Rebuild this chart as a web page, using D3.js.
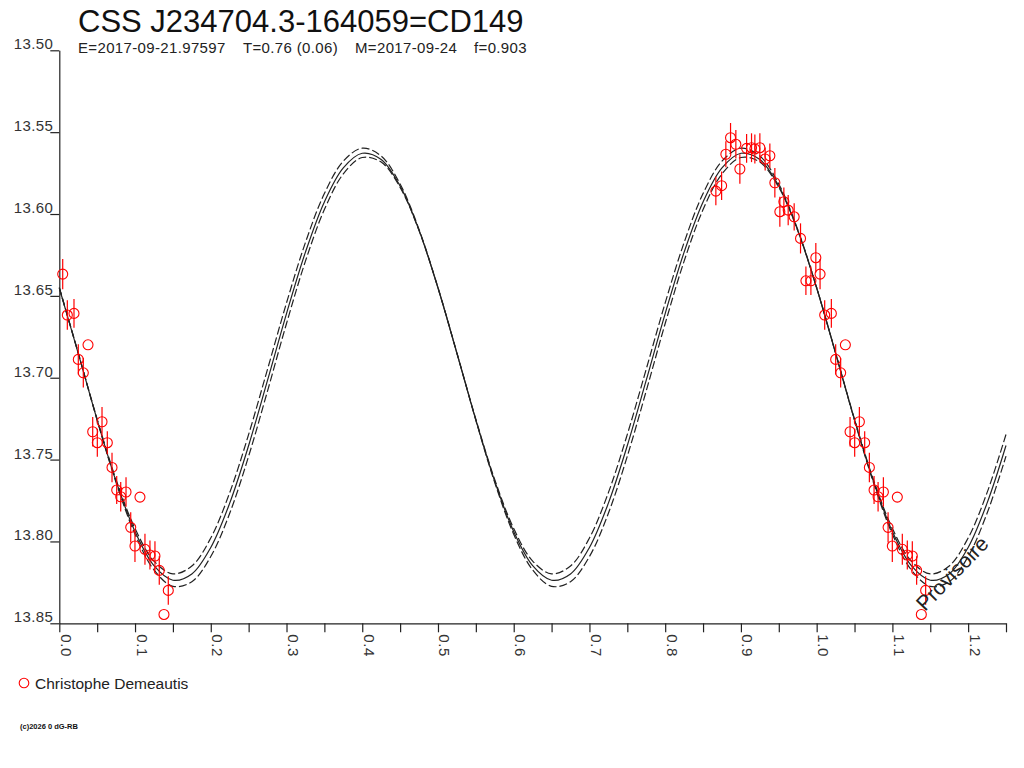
<!DOCTYPE html>
<html><head><meta charset="utf-8">
<script src="https://cdn.jsdelivr.net/npm/d3@7"></script>
<style>
html,body{margin:0;padding:0;background:#fff;}
svg{display:block;font-family:"Liberation Sans",Arial,sans-serif;}
</style>
</head><body>
<svg id="chart" width="1024" height="768"></svg>
<script>
// ---- Data ----
const titleText = "CSS J234704.3-164059=CD149";
const subtitleParts = ["E=2017-09-21.97597", "T=0.76 (0.06)", "M=2017-09-24", "f=0.903"];
const subtitleX = [78, 243, 355, 474];
const observerName = "Christophe Demeautis";
const copyrightText = "(c)2026 0 dG-RB";
const stampText = "Provisoire";

const yTicks = [13.50, 13.55, 13.60, 13.65, 13.70, 13.75, 13.80, 13.85];
const xTicks = [0,0.05,0.1,0.15,0.2,0.25,0.3,0.35,0.4,0.45,0.5,0.55,0.6,0.65,0.7,0.75,0.8,0.85,0.9,0.95,1.0,1.05,1.1,1.15,1.2,1.25];
const xTickLabels = ["0.0","","0.1","","0.2","","0.3","","0.4","","0.5","","0.6","","0.7","","0.8","","0.9","","1.0","","1.1","","1.2",""];

// observations: phase, magnitude, error (0 = no error bar)
const obsPhase = [0.0045,0.0106,0.0194,0.0379,0.0251,0.0317,0.0564,0.0441,0.0502,0.0634,0.0696,0.0758,0.0811,0.0881,0.1065,0.0943,0.0999,0.1131,0.1197,0.1263,0.1320,0.1439,0.1382,
  0.8863,0.8801,0.8933,0.8986,0.9075,0.9140,0.9184,0.9250,0.9320,0.9382,0.9448,0.8745,0.8669,0.9567,0.9514,0.9624,0.9703,0.9787,0.9989,0.9858,0.9924];
const obsMag = [13.6367,13.6617,13.6607,13.6799,13.6888,13.6970,13.7269,13.7330,13.7397,13.7397,13.7548,13.7686,13.7727,13.7698,13.7729,13.7914,13.8028,13.8048,13.8083,13.8089,13.8177,13.8299,13.8446,
  13.5534,13.5635,13.5574,13.5725,13.5599,13.5595,13.5603,13.5595,13.5664,13.5644,13.5809,13.5827,13.5860,13.5925,13.5986,13.5976,13.6017,13.6149,13.6267,13.6408,13.6408];
const obsErr = [0.0092,0.0090,0.0088,0,0.0092,0.0090,0.0090,0.0090,0.0085,0.0070,0.0090,0.0085,0.0090,0.0090,0,0.0092,0.0098,0.0095,0.0088,0.0090,0.0087,0.0087,0,
  0.0090,0.0080,0.0087,0.0090,0.0088,0.0088,0.0088,0.0088,0.0070,0.0075,0.0090,0.0087,0.0087,0.0087,0.0092,0.0092,0.0083,0.0092,0.0090,0.0087,0.0087];

// fitted light curve (central) and its two envelopes, sampled every 0.025 in phase
const curvePhase = [0,0.025,0.05,0.075,0.1,0.125,0.15,0.175,0.2,0.225,0.25,0.275,0.3,0.325,0.35,0.375,0.4,0.425,0.45,0.475,
  0.5,0.525,0.55,0.575,0.6,0.625,0.65,0.675,0.7,0.725,0.75,0.775,0.8,0.825,0.85,0.875,0.9,0.925,0.95,0.975,
  1.0,1.025,1.05,1.075,1.1,1.125,1.15,1.175,1.2,1.225,1.25];
const curveMid = [13.6452,13.6851,13.7258,13.7633,13.7940,13.8148,13.8237,13.8199,13.8037,13.7766,13.7414,13.7015,13.6608,13.6233,13.5926,13.5718,13.5629,13.5667,13.5829,13.6100,
  13.6452,13.6851,13.7258,13.7633,13.7940,13.8148,13.8237,13.8199,13.8037,13.7766,13.7414,13.7015,13.6608,13.6233,13.5926,13.5718,13.5629,13.5667,13.5829,13.6100,
  13.6452,13.6851,13.7258,13.7633,13.7940,13.8148,13.8237,13.8199,13.8037,13.7766,13.7414];
const curveUpper = [13.6450,13.6849,13.7253,13.7623,13.7921,13.8120,13.8198,13.8150,13.7979,13.7702,13.7346,13.6947,13.6543,13.6174,13.5875,13.5677,13.5598,13.5646,13.5817,13.6094,
  13.6450,13.6849,13.7253,13.7623,13.7921,13.8120,13.8198,13.8150,13.7979,13.7702,13.7346,13.6947,13.6543,13.6174,13.5875,13.5677,13.5598,13.5646,13.5817,13.6094,
  13.6450,13.6849,13.7253,13.7623,13.7921,13.8120,13.8198,13.8150,13.7979,13.7702,13.7346];
const curveLower = [13.6450,13.6849,13.7260,13.7641,13.7956,13.8174,13.8274,13.8246,13.8092,13.7828,13.7479,13.7080,13.6669,13.6288,13.5973,13.5755,13.5655,13.5683,13.5837,13.6101,
  13.6450,13.6849,13.7260,13.7641,13.7956,13.8174,13.8274,13.8246,13.8092,13.7828,13.7479,13.7080,13.6669,13.6288,13.5973,13.5755,13.5655,13.5683,13.5837,13.6101,
  13.6450,13.6849,13.7260,13.7641,13.7956,13.8174,13.8274,13.8246,13.8092,13.7828,13.7479];

// ---- Drawing ----
const svg = d3.select("#chart");
const x = d3.scaleLinear().domain([0, 1.25]).range([59.3, 1006]);
const y = d3.scaleLinear().domain([13.50, 13.85]).range([50.3, 623.3]);
const red = "#ff0000";
const ink = "#222";

// title
svg.append("text").attr("x", 78).attr("y", 31.5)
  .attr("font-size", 31).attr("fill", "#111").text(titleText);
const sub = svg.append("text").attr("y", 53).attr("font-size", 15)
  .attr("letter-spacing", 0.35).attr("fill", "#222");
subtitleParts.forEach((s, i) => sub.append("tspan").attr("x", subtitleX[i]).text(s));

// y axis
const yAxis = d3.axisLeft(y).tickValues(yTicks).tickSize(9).tickSizeOuter(0).tickFormat(d3.format(".2f"));
const gy = svg.append("g").attr("transform", "translate(59.3,0)").call(yAxis);
gy.select(".domain").attr("stroke", ink).attr("stroke-width", 1.2);
gy.selectAll(".tick line").attr("stroke", ink).attr("stroke-width", 1.2);
gy.selectAll(".tick text").attr("x", -6).attr("y", -1.5).attr("dy", 0)
  .attr("font-size", 15).attr("fill", "#333").attr("text-anchor", "end")
  .attr("font-family", "Liberation Sans, Arial, sans-serif").attr("letter-spacing", 0.4);

// x axis
const xAxis = d3.axisBottom(x).tickValues(xTicks).tickSize(9).tickSizeOuter(0)
  .tickFormat((d, i) => xTickLabels[i]);
const gx = svg.append("g").attr("transform", "translate(0,623.3)").call(xAxis);
gx.select(".domain").attr("stroke", ink).attr("stroke-width", 1.2);
gx.selectAll(".tick line").attr("stroke", ink).attr("stroke-width", 1.2);
gx.selectAll(".tick text").attr("x", 0).attr("y", 0).attr("dy", 0)
  .attr("transform", "translate(1,11) rotate(90)")
  .attr("text-anchor", "start")
  .attr("font-size", 15).attr("fill", "#333")
  .attr("font-family", "Liberation Sans, Arial, sans-serif").attr("letter-spacing", 0.6);

// curves
const line = d3.line().x(d => x(d[0])).y(d => y(d[1])).curve(d3.curveCatmullRom.alpha(0.5));
const mk = arr => curvePhase.map((p, i) => [p, arr[i]]);
svg.append("path").attr("d", line(mk(curveUpper))).attr("fill", "none")
  .attr("stroke", ink).attr("stroke-width", 1.2).attr("stroke-dasharray", "8,3");
svg.append("path").attr("d", line(mk(curveLower))).attr("fill", "none")
  .attr("stroke", ink).attr("stroke-width", 1.2).attr("stroke-dasharray", "8,3");
svg.append("path").attr("d", line(mk(curveMid))).attr("fill", "none")
  .attr("stroke", ink).attr("stroke-width", 1.2);

// observations (each phase shown also at phase+1 when inside range)
const pts = [];
obsPhase.forEach((p, i) => {
  [p - 1, p, p + 1].forEach(q => {
    if (q >= 0 && q <= 1.25) pts.push({ p: q, m: obsMag[i], e: obsErr[i] });
  });
});
const gObs = svg.append("g");
gObs.selectAll("line.err").data(pts.filter(d => d.e > 0)).enter().append("line")
  .attr("x1", d => x(d.p)).attr("x2", d => x(d.p))
  .attr("y1", d => y(d.m - d.e)).attr("y2", d => y(d.m + d.e))
  .attr("stroke", red).attr("stroke-width", 1.2);
gObs.selectAll("circle").data(pts).enter().append("circle")
  .attr("cx", d => x(d.p)).attr("cy", d => y(d.m)).attr("r", 5)
  .attr("fill", "none").attr("stroke", red).attr("stroke-width", 1.1);

// stamp
svg.append("text").attr("transform", "translate(925,612) rotate(-46)")
  .attr("font-size", 21).attr("fill", ink).text(stampText);

// legend
svg.append("circle").attr("cx", 24).attr("cy", 683).attr("r", 4.8)
  .attr("fill", "none").attr("stroke", red).attr("stroke-width", 1.1);
svg.append("text").attr("x", 35).attr("y", 688.5).attr("font-size", 15.5)
  .attr("fill", "#222").text(observerName);

// copyright
svg.append("text").attr("x", 20).attr("y", 729).attr("font-size", 7.5)
  .attr("fill", "#111").attr("font-weight", "bold").text(copyrightText);
</script>
</body></html>
